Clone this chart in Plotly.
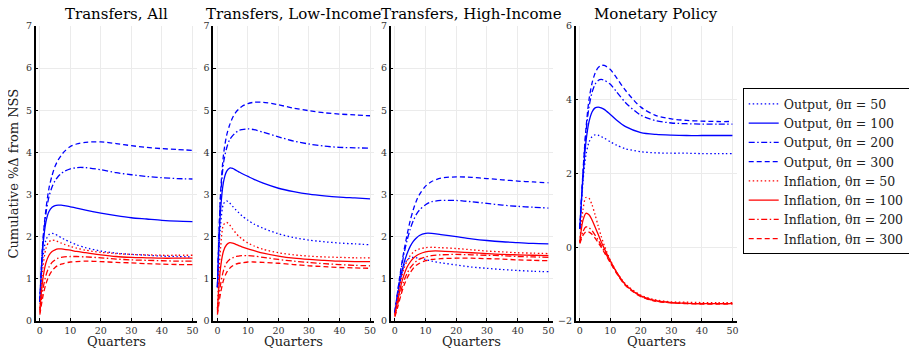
import plotly.graph_objects as go

# ---------------- data ----------------
quarters = [0, 1, 2, 3, 4, 5, 6, 7, 8, 10, 12, 15, 20, 25, 30, 35, 40, 45, 50]

panel_titles = ["Transfers, All", "Transfers, Low-Income", "Transfers, High-Income", "Monetary Policy"]
series_names = ["Output, θπ = 50", "Output, θπ = 100", "Output, θπ = 200", "Output, θπ = 300",
                "Inflation, θπ = 50", "Inflation, θπ = 100", "Inflation, θπ = 200", "Inflation, θπ = 300"]

# Transfers, All
all_out50 = [0.45, 1.5, 1.92, 2.05, 2.08, 2.06, 2.02, 1.98, 1.94, 1.87, 1.81, 1.74, 1.66, 1.61, 1.58, 1.56, 1.54, 1.53, 1.52]
all_out100 = [0.45, 1.75, 2.35, 2.6, 2.7, 2.74, 2.75, 2.75, 2.74, 2.71, 2.68, 2.63, 2.56, 2.5, 2.45, 2.42, 2.39, 2.37, 2.36]
all_out200 = [0.45, 1.85, 2.55, 2.95, 3.18, 3.33, 3.43, 3.5, 3.55, 3.61, 3.64, 3.64, 3.59, 3.52, 3.47, 3.43, 3.4, 3.38, 3.37]
all_out300 = [0.45, 1.9, 2.65, 3.15, 3.45, 3.67, 3.82, 3.93, 4.02, 4.14, 4.2, 4.24, 4.25, 4.21, 4.16, 4.12, 4.09, 4.07, 4.05]
all_inf50 = [0.3, 1.25, 1.72, 1.88, 1.92, 1.91, 1.88, 1.85, 1.82, 1.77, 1.73, 1.68, 1.63, 1.6, 1.58, 1.57, 1.56, 1.56, 1.56]
all_inf100 = [0.25, 1.0, 1.38, 1.56, 1.65, 1.69, 1.71, 1.71, 1.7, 1.68, 1.65, 1.62, 1.57, 1.53, 1.51, 1.5, 1.49, 1.49, 1.49]
all_inf200 = [0.2, 0.75, 1.08, 1.28, 1.39, 1.45, 1.49, 1.51, 1.52, 1.53, 1.53, 1.52, 1.5, 1.47, 1.45, 1.44, 1.43, 1.42, 1.42]
all_inf300 = [0.15, 0.58, 0.88, 1.07, 1.19, 1.27, 1.32, 1.35, 1.37, 1.4, 1.41, 1.42, 1.41, 1.39, 1.38, 1.36, 1.35, 1.34, 1.34]

# Transfers, Low-Income
low_out50 = [0.8, 2.25, 2.78, 2.85, 2.8, 2.72, 2.64, 2.57, 2.5, 2.39, 2.3, 2.2, 2.07, 1.98, 1.92, 1.88, 1.85, 1.83, 1.81]
low_out100 = [0.8, 2.6, 3.3, 3.55, 3.63, 3.62, 3.58, 3.54, 3.5, 3.43, 3.36, 3.27, 3.15, 3.07, 3.01, 2.97, 2.94, 2.92, 2.9]
low_out200 = [0.8, 2.9, 3.75, 4.1, 4.3, 4.4, 4.47, 4.52, 4.54, 4.56, 4.54, 4.48, 4.37, 4.27, 4.2, 4.15, 4.12, 4.11, 4.1]
low_out300 = [0.8, 3.0, 3.95, 4.4, 4.65, 4.83, 4.95, 5.03, 5.09, 5.16, 5.19, 5.19, 5.13, 5.05, 4.99, 4.94, 4.91, 4.89, 4.87]
low_inf50 = [0.3, 1.7, 2.28, 2.34, 2.28, 2.18, 2.09, 2.01, 1.95, 1.85, 1.78, 1.7, 1.62, 1.57, 1.54, 1.52, 1.51, 1.5, 1.5]
low_inf100 = [0.25, 1.25, 1.66, 1.81, 1.86, 1.85, 1.82, 1.79, 1.76, 1.71, 1.67, 1.61, 1.54, 1.49, 1.46, 1.44, 1.42, 1.41, 1.41]
low_inf200 = [0.2, 0.85, 1.2, 1.38, 1.46, 1.5, 1.53, 1.54, 1.55, 1.55, 1.54, 1.51, 1.46, 1.42, 1.39, 1.36, 1.34, 1.32, 1.31]
low_inf300 = [0.15, 0.65, 0.97, 1.15, 1.25, 1.31, 1.35, 1.37, 1.38, 1.4, 1.4, 1.39, 1.37, 1.34, 1.31, 1.29, 1.27, 1.26, 1.25]

# Transfers, High-Income
high_out50 = [0.2, 0.7, 1.08, 1.32, 1.45, 1.5, 1.51, 1.5, 1.49, 1.46, 1.42, 1.38, 1.33, 1.28, 1.25, 1.22, 1.2, 1.18, 1.17]
high_out100 = [0.2, 0.65, 1.05, 1.38, 1.6, 1.77, 1.89, 1.97, 2.03, 2.08, 2.08, 2.05, 2.0, 1.95, 1.91, 1.88, 1.86, 1.84, 1.83]
high_out200 = [0.2, 0.72, 1.2, 1.6, 1.92, 2.18, 2.38, 2.53, 2.63, 2.76, 2.83, 2.86, 2.86, 2.83, 2.79, 2.75, 2.72, 2.7, 2.68]
high_out300 = [0.2, 0.75, 1.25, 1.68, 2.05, 2.38, 2.64, 2.85, 3.0, 3.2, 3.31, 3.39, 3.42, 3.41, 3.38, 3.35, 3.32, 3.3, 3.28]
high_inf50 = [0.15, 0.6, 0.98, 1.25, 1.43, 1.55, 1.63, 1.68, 1.71, 1.74, 1.75, 1.74, 1.72, 1.69, 1.66, 1.64, 1.62, 1.61, 1.6]
high_inf100 = [0.15, 0.5, 0.85, 1.1, 1.28, 1.4, 1.49, 1.55, 1.59, 1.64, 1.66, 1.66, 1.64, 1.62, 1.6, 1.58, 1.57, 1.56, 1.55]
high_inf200 = [0.12, 0.42, 0.72, 0.96, 1.13, 1.26, 1.35, 1.42, 1.47, 1.52, 1.55, 1.57, 1.58, 1.57, 1.56, 1.55, 1.53, 1.52, 1.51]
high_inf300 = [0.1, 0.35, 0.62, 0.85, 1.02, 1.15, 1.25, 1.32, 1.37, 1.43, 1.46, 1.48, 1.49, 1.49, 1.48, 1.47, 1.45, 1.44, 1.43]

# Monetary Policy
mp_out50 = [0.5, 1.75, 2.5, 2.85, 3.0, 3.05, 3.04, 3.0, 2.96, 2.86, 2.77, 2.67, 2.59, 2.56, 2.55, 2.55, 2.54, 2.54, 2.54]
mp_out100 = [0.5, 1.85, 2.85, 3.4, 3.67, 3.78, 3.8, 3.78, 3.74, 3.6, 3.45, 3.27, 3.11, 3.06, 3.04, 3.03, 3.03, 3.03, 3.03]
mp_out200 = [0.5, 1.95, 3.1, 3.8, 4.2, 4.42, 4.52, 4.55, 4.53, 4.42, 4.22, 3.92, 3.58, 3.43, 3.37, 3.35, 3.34, 3.34, 3.34]
mp_out300 = [0.5, 2.0, 3.2, 4.0, 4.45, 4.72, 4.87, 4.93, 4.93, 4.82, 4.6, 4.25, 3.8, 3.57, 3.48, 3.44, 3.42, 3.41, 3.41]
mp_inf50 = [0.15, 1.0, 1.35, 1.33, 1.15, 0.88, 0.58, 0.3, 0.05, -0.35, -0.66, -1.0, -1.3, -1.43, -1.48, -1.49, -1.5, -1.5, -1.5]
mp_inf100 = [0.15, 0.72, 0.92, 0.88, 0.74, 0.55, 0.35, 0.15, -0.03, -0.37, -0.67, -1.02, -1.32, -1.45, -1.5, -1.52, -1.53, -1.53, -1.53]
mp_inf200 = [0.12, 0.42, 0.55, 0.53, 0.45, 0.33, 0.2, 0.05, -0.1, -0.4, -0.68, -1.03, -1.33, -1.46, -1.5, -1.52, -1.53, -1.53, -1.53]
mp_inf300 = [0.1, 0.32, 0.42, 0.41, 0.35, 0.25, 0.13, 0.0, -0.14, -0.42, -0.7, -1.04, -1.34, -1.47, -1.51, -1.53, -1.54, -1.54, -1.54]

panels = [
    [all_out50, all_out100, all_out200, all_out300, all_inf50, all_inf100, all_inf200, all_inf300],
    [low_out50, low_out100, low_out200, low_out300, low_inf50, low_inf100, low_inf200, low_inf300],
    [high_out50, high_out100, high_out200, high_out300, high_inf50, high_inf100, high_inf200, high_inf300],
    [mp_out50, mp_out100, mp_out200, mp_out300, mp_inf50, mp_inf100, mp_inf200, mp_inf300],
]

x_ticks = [0, 10, 20, 30, 40, 50]
y_ticks_transfers = [0, 1, 2, 3, 4, 5, 6, 7]
y_ticks_mp = [-2, 0, 2, 4, 6]

# ---------------- styling ----------------
W, H = 917, 348
OFF = 8  # page body margin offset
FONT = "DejaVu Serif"
colors = ["#0000ff"] * 4 + ["#ff0000"] * 4
DOT = "1.5px,2.5px"
DASH = "5px,3px"
DASHDOT = "6px,2.5px,1.5px,2.5px"
dashes = [DOT, "solid", DASHDOT, DASH] * 2


def fx(px):
    return (px - OFF) / W


def fy(py):
    return 1 - (py - OFF) / H


# plot-area pixel boxes (left, right) in window pixels
px_boxes = [(35.7, 196.7), (213.3, 374.3), (390.7, 552.7), (575.7, 736.7)]
y_top_px, y_bot_px = 26, 321

fig = go.Figure()
for p, data in enumerate(panels):
    ax = "" if p == 0 else str(p + 1)
    for s, ys in enumerate(data):
        fig.add_trace(go.Scatter(
            x=quarters, y=ys, mode="lines", name=series_names[s],
            line=dict(color=colors[s], dash=dashes[s], width=1.3, shape="spline", smoothing=0.8),
            showlegend=(p == 0), xaxis="x" + ax, yaxis="y" + ax,
        ))

layout = dict(
    width=W, height=H, margin=dict(l=0, r=0, t=0, b=0, autoexpand=False),
    paper_bgcolor="white", plot_bgcolor="white",
    font=dict(family=FONT, color="black"),
    legend=dict(
        x=fx(742.7), y=fy(88.3), xanchor="left", yanchor="top",
        bordercolor="black", borderwidth=1, bgcolor="white",
        font=dict(family=FONT, size=12.5, color="#222"),
        itemwidth=30, tracegroupgap=0,
    ),
    showlegend=True,
)

annotations = []
ydom = [fy(y_bot_px), fy(y_top_px)]
for p, (l, r) in enumerate(px_boxes):
    ax = "" if p == 0 else str(p + 1)
    xa = dict(
        domain=[fx(l), fx(r)], anchor="y" + ax, range=[-1.35, 51.4], automargin=False,
        tickvals=x_ticks, ticks="inside", ticklen=3, tickcolor="black",
        showline=True, linecolor="black", linewidth=1.5, mirror=False,
        showgrid=True, gridcolor="#ebebeb", gridwidth=1, zeroline=False,
        tickfont=dict(family=FONT, size=9.5, color="#333"),
    )
    if p < 3:
        yr, yt = [0, 7], y_ticks_transfers
    else:
        yr, yt = [-2, 6], y_ticks_mp
    ya = dict(
        domain=ydom, anchor="x" + ax, range=yr, tickvals=yt, automargin=False,
        ticks="inside", ticklen=3, tickcolor="black",
        showline=True, linecolor="black", linewidth=1.5, mirror=False,
        showgrid=True, gridcolor="#ebebeb", gridwidth=1, zeroline=False,
        tickfont=dict(family=FONT, size=9.5, color="#333"),
    )
    layout["xaxis" + ax] = xa
    layout["yaxis" + ax] = ya
    cx = fx((l + r) / 2)
    annotations.append(dict(text=panel_titles[p], x=cx, y=fy(14), xref="paper", yref="paper",
                            xanchor="center", yanchor="middle", showarrow=False,
                            font=dict(family=FONT, size=15, color="black")))
    annotations.append(dict(text="Quarters", x=cx, y=fy(341.5), xref="paper", yref="paper",
                            xanchor="center", yanchor="middle", showarrow=False,
                            font=dict(family=FONT, size=13, color="#222")))

annotations.append(dict(text="Cumulative %Δ from NSS", x=fx(13), y=fy(173.5), xref="paper", yref="paper",
                        xanchor="center", yanchor="middle", showarrow=False, textangle=-90,
                        font=dict(family=FONT, size=13, color="#222")))
layout["annotations"] = annotations

fig.update_layout(**layout)
fig.write_html("out.html")
